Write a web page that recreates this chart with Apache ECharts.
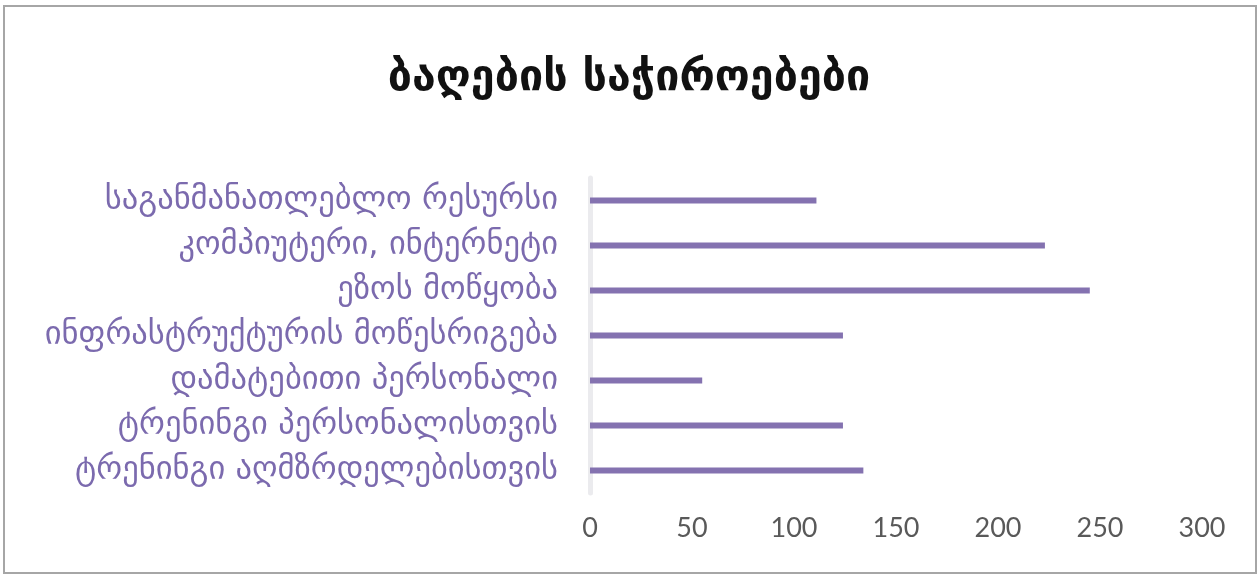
<!DOCTYPE html>
<html>
<head>
<meta charset="utf-8">
<script src="https://cdn.jsdelivr.net/npm/echarts@6/dist/echarts.min.js"></script>
<style>
    html, body { margin: 0; padding: 0; background: #fff; }
    #frame { position: absolute; left: 3px; top: 5px; width: 1250px; height: 565px; border: 2px solid #a6a6a6; }
    #chart { position: absolute; left: 0; top: 0; width: 1258px; height: 574px; }
</style>
</head>
<body>
<div id="frame"></div>
<div id="chart"></div>
<script>
var categories = [
    'საგანმანათლებლო რესურსი',
    'კომპიუტერი, ინტერნეტი',
    'ეზოს მოწყობა',
    'ინფრასტრუქტურის მოწესრიგება',
    'დამატებითი პერსონალი',
    'ტრენინგი პერსონალისთვის',
    'ტრენინგი აღმზრდელებისთვის'
];
var values = [111, 223, 245, 124, 55, 124, 134];
var xTicks = [0, 50, 100, 150, 200, 250, 300];

var myChart = echarts.init(document.getElementById('chart'));
var option = {
    title: {
        text: 'ბაღების საჭიროებები',
        left: 'center',
        top: 52,
        textStyle: {
            fontFamily: 'DejaVu Sans',
            fontSize: 43,
            fontWeight: 'bold',
            color: '#111'
        }
    },
    grid: {
        left: 590,
        right: 56,
        top: 178,
        height: 315
    },
    xAxis: {
        type: 'value',
        min: xTicks[0],
        max: xTicks[xTicks.length - 1],
        interval: 50,
        axisLine: { show: false },
        axisTick: { show: false },
        splitLine: { show: false },
        axisLabel: {
            margin: 22,
            fontSize: 27,
            fontFamily: 'Lato',
            color: '#595959'
        }
    },
    yAxis: {
        type: 'category',
        inverse: true,
        data: categories,
        axisLine: { show: true, lineStyle: { color: '#ebebee', width: 5 } },
        axisTick: { show: false },
        axisLabel: {
            margin: 32,
            fontSize: 32.5,
            fontFamily: 'DejaVu Sans',
            color: '#7b6aae'
        }
    },
    series: [{
        type: 'bar',
        data: values,
        barWidth: 6,
        itemStyle: { color: '#8472b0' },
        silent: true
    }]
};
myChart.setOption(option);
</script>
</body>
</html>
